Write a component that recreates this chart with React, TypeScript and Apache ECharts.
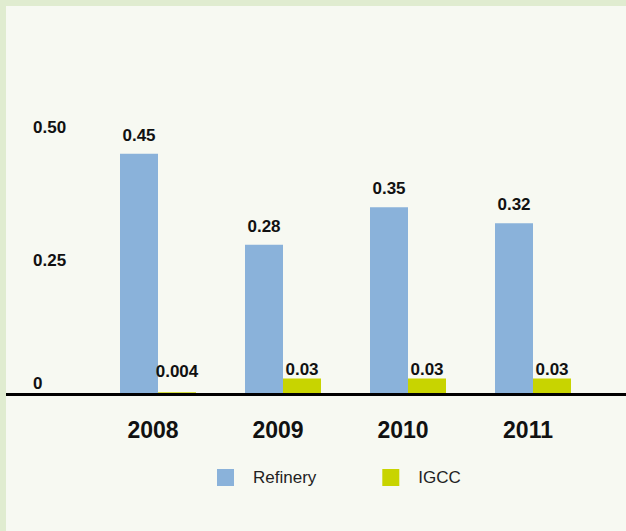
import React, { useEffect, useRef } from "react";
import * as echarts from "echarts";

const categories = ["2008", "2009", "2010", "2011"];
const refineryValues = [0.45, 0.28, 0.35, 0.32];
const igccValues = [0.004, 0.03, 0.03, 0.03];
const yTicks = [0, 0.25, 0.5];
const yTickLabels = ["0", "0.25", "0.50"];
const seriesNames = ["Refinery", "IGCC"];

const FONT = "'Liberation Sans', Arial, sans-serif";

export default function App() {
  const ref = useRef<HTMLDivElement>(null);
  useEffect(() => {
    document.body.style.margin = "0";
    const chart = echarts.init(ref.current!, undefined, { renderer: "svg" });
    const axisY = 394.5;
    chart.setOption({
      animation: false,
      backgroundColor: "#f7f9f2",
      textStyle: { fontFamily: FONT },
      grid: { left: 95.5, right: 30.5, top: 127, bottom: 531 - axisY },
      legend: {
        left: 217,
        top: 469,
        padding: 0,
        itemWidth: 17,
        itemHeight: 17,
        itemGap: 66,
        icon: "rect",
        data: seriesNames,
        textStyle: {
          fontFamily: FONT,
          fontSize: 17,
          color: "#222",
          padding: [0, 0, 0, 14],
        },
      },
      xAxis: {
        type: "category",
        data: categories,
        axisLine: { show: false },
        axisTick: { show: false },
        axisLabel: {
          margin: 24,
          fontFamily: FONT,
          fontSize: 23,
          fontWeight: "bold",
          color: "#111",
          padding: [0, 10, 0, 0],
        },
      },
      yAxis: {
        type: "value",
        min: 0,
        max: 0.5,
        interval: 0.25,
        splitLine: { show: false },
        axisLine: { show: false },
        axisTick: { show: false },
        axisLabel: {
          align: "left",
          margin: 62.5,
          fontFamily: FONT,
          fontSize: 17,
          fontWeight: "bold",
          color: "#111",
          formatter: (v: number) => {
            const i = yTicks.findIndex((t) => Math.abs(t - v) < 1e-9);
            const s = i >= 0 ? yTickLabels[i] : String(v);
            return v === 0 ? "{z|" + s + "}" : s;
          },
          rich: {
            z: {
              fontFamily: FONT,
              fontSize: 17,
              fontWeight: "bold",
              color: "#111",
              padding: [0, 0, 22, 0],
            },
          },
        },
      },
      series: [
        {
          name: seriesNames[0],
          type: "bar",
          data: refineryValues,
          barWidth: 38,
          barGap: "0%",
          itemStyle: { color: "#8ab2da" },
          label: {
            show: true,
            position: "top",
            distance: 10,
            fontFamily: FONT,
            fontSize: 17,
            fontWeight: "bold",
            color: "#111",
            formatter: (p: any) => String(p.value),
          },
        },
        {
          name: seriesNames[1],
          type: "bar",
          data: igccValues.map((v) => ({
            value: v,
            label: { distance: v < 0.01 ? 12 : 0 },
          })),
          barWidth: 38,
          barGap: "0%",
          itemStyle: { color: "#c8d400" },
          label: {
            show: true,
            position: "top",
            distance: 0,
            fontFamily: FONT,
            fontSize: 17,
            fontWeight: "bold",
            color: "#111",
            formatter: (p: any) => String(p.value),
          },
        },
      ],
      graphic: [
        { type: "rect", shape: { x: 0, y: 0, width: 6, height: 531 }, style: { fill: "#e0ecd0" }, silent: true },
        { type: "rect", shape: { x: 0, y: 0, width: 626, height: 6 }, style: { fill: "#e0ecd0" }, silent: true },
        {
          type: "line",
          shape: { x1: 6, y1: axisY, x2: 626, y2: axisY },
          style: { stroke: "#000", lineWidth: 3 },
          z: 100,
          silent: true,
        },
      ],
    });
    return () => chart.dispose();
  }, []);
  return (
    <div
      ref={ref}
      style={{ position: "absolute", left: 0, top: 0, width: 626, height: 531 }}
    />
  );
}
